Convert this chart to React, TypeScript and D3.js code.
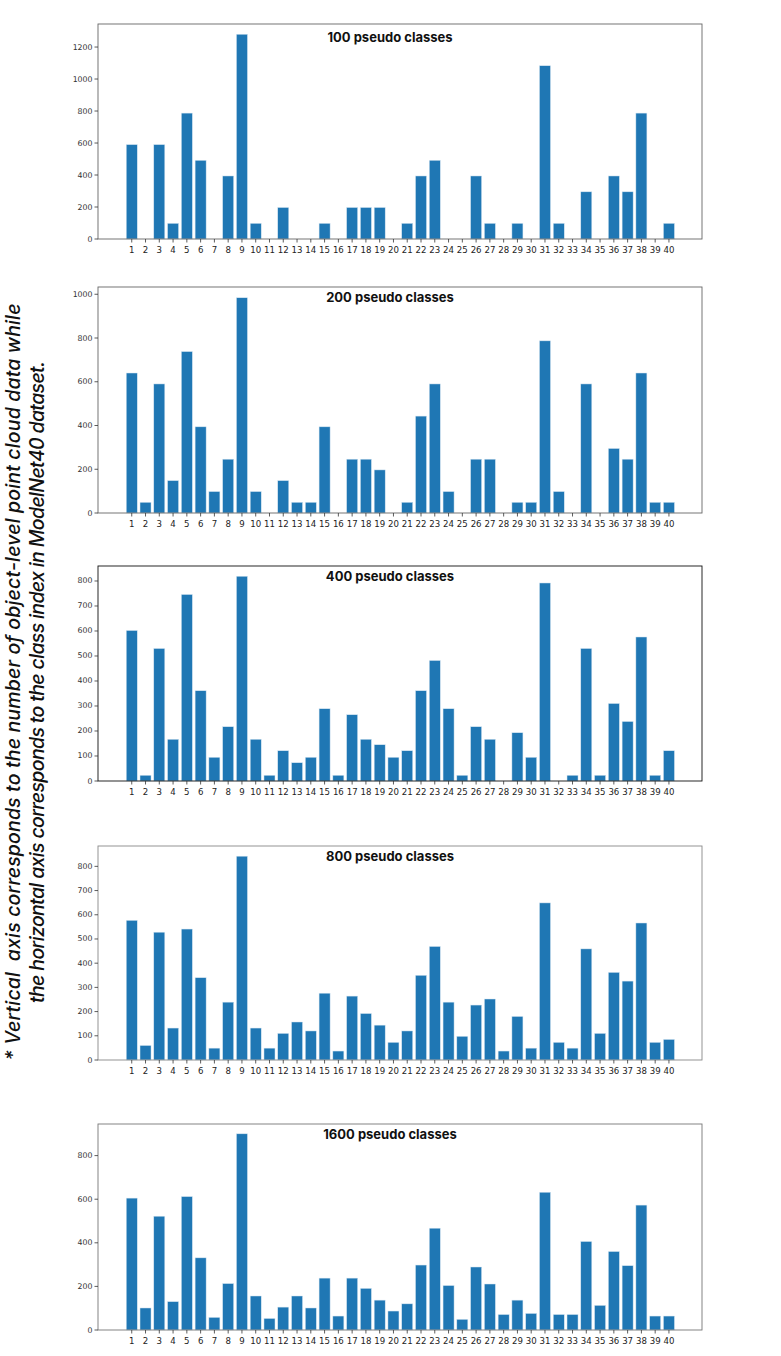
import React from 'react';
import * as d3 from 'd3';

// class index on the horizontal axis
const classIdx = [
  1, 2, 3, 4, 5, 6, 7, 8, 9, 10, 11, 12, 13, 14, 15, 16, 17, 18, 19, 20,
  21, 22, 23, 24, 25, 26, 27, 28, 29, 30, 31, 32, 33, 34, 35, 36, 37, 38, 39, 40,
];

const counts100 = [
  590, 0, 590, 98, 787, 492, 0, 394, 1280, 98, 0, 197, 0, 0, 98, 0, 197, 197, 197, 0,
  98, 394, 492, 0, 0, 394, 98, 0, 98, 0, 1083, 98, 0, 295, 0, 394, 295, 787, 0, 98,
];
const counts200 = [
  640, 49, 590, 148, 738, 394, 98, 246, 984, 98, 0, 148, 49, 49, 394, 0, 246, 246, 197, 0,
  49, 443, 590, 98, 0, 246, 246, 0, 49, 49, 787, 98, 0, 590, 0, 295, 246, 640, 49, 49,
];
const counts400 = [
  602, 23, 530, 167, 746, 361, 95, 217, 819, 167, 23, 121, 73, 95, 289, 23, 265, 167, 145, 95,
  121, 361, 482, 289, 23, 217, 167, 0, 193, 95, 792, 0, 23, 530, 23, 310, 238, 576, 23, 121,
];
const counts800 = [
  577, 60, 528, 132, 541, 340, 49, 239, 842, 132, 49, 110, 157, 120, 276, 37, 264, 192, 144, 73,
  120, 350, 469, 239, 98, 227, 252, 37, 180, 49, 649, 73, 49, 459, 110, 362, 326, 566, 73, 85,
];
const counts1600 = [
  605, 101, 522, 130, 612, 331, 58, 213, 900, 156, 53, 105, 156, 101, 238, 64, 238, 191, 137, 87,
  120, 298, 467, 204, 49, 289, 211, 71, 137, 76, 632, 71, 71, 406, 113, 360, 295, 573, 64, 64,
];

const titles = ['100 pseudo classes', '200 pseudo classes', '400 pseudo classes', '800 pseudo classes', '1600 pseudo classes'];
const ticks100 = [0, 200, 400, 600, 800, 1000, 1200];
const ticks200 = [0, 200, 400, 600, 800, 1000];
const ticks400 = [0, 100, 200, 300, 400, 500, 600, 700, 800];
const ticks800 = [0, 100, 200, 300, 400, 500, 600, 700, 800];
const ticks1600 = [0, 200, 400, 600, 800];

const noteLines = [
  '* Vertical  axis corresponds to the number of object-level point cloud data while',
  'the horizontal axis corresponds to the class index in ModelNet40 dataset.',
];

// plot frames (pixel layout)
const panels = [
  { values: counts100, ticks: ticks100, top: 24, bottom: 239, titleDy: 13, frame: '#666' },
  { values: counts200, ticks: ticks200, top: 287, bottom: 513, titleDy: 10, frame: '#666' },
  { values: counts400, ticks: ticks400, top: 566, bottom: 781, titleDy: 10, frame: '#111' },
  { values: counts800, ticks: ticks800, top: 846, bottom: 1060, titleDy: 10, frame: '#888' },
  { values: counts1600, ticks: ticks1600, top: 1124, bottom: 1330, titleDy: 10, frame: '#777' },
];

const LEFT = 98;
const RIGHT = 702;
const BAR = '#1f77b4';
const tickFont = '"DejaVu Sans", sans-serif';

const x = d3.scaleLinear().domain([-1.45, 42.4]).range([LEFT, RIGHT]);
const barW = x(0.8) - x(0);

const Panel: React.FC<{ idx: number }> = ({ idx }) => {
  const p = panels[idx];
  const max = d3.max(p.values) as number;
  const y = d3.scaleLinear().domain([0, max * 1.05]).range([p.bottom, p.top]);

  return (
    <g>
      {p.values.map((v, i) => (
        <rect
          key={i}
          x={x(classIdx[i]) - barW / 2}
          y={y(v)}
          width={barW}
          height={p.bottom - y(v)}
          fill={BAR}
          stroke="#d6e6f2"
          strokeWidth={0.5}
        />
      ))}
      <rect x={LEFT} y={p.top} width={RIGHT - LEFT} height={p.bottom - p.top} fill="none" stroke={p.frame} strokeWidth={0.9} />

      {/* x axis */}
      {classIdx.map((c) => (
        <g key={c} transform={`translate(${x(c)},${p.bottom})`}>
          <line y2={3.5} stroke="#333" strokeWidth={0.8} />
          <text y={13.5} textAnchor="middle" fontSize={8.6} fontFamily={tickFont} fill="#222">
            {c}
          </text>
        </g>
      ))}

      {/* y axis */}
      {p.ticks.map((t) => (
        <g key={t} transform={`translate(${LEFT},${y(t)})`}>
          <line x2={-3.5} stroke="#333" strokeWidth={0.8} />
          <text x={-5.5} dy="0.32em" textAnchor="end" fontSize={7.8} fontFamily={tickFont} fill="#333">
            {t}
          </text>
        </g>
      ))}

      <text
        x={390}
        y={p.top + p.titleDy}
        dy="0.35em"
        textAnchor="middle"
        fontSize={13}
        fontWeight={700}
        fontFamily='Inter, "Open Sans", sans-serif'
        fill="#111"
      >
        {titles[idx]}
      </text>
    </g>
  );
};

const noteLengths = [757, 642];

const App: React.FC = () => {
  return (
    <svg
      width={781}
      height={1356}
      style={{ position: 'absolute', left: 0, top: 0, background: '#fff' }}
    >
      <rect width={781} height={1356} fill="#fff" />
      {panels.map((_, i) => (
        <Panel key={i} idx={i} />
      ))}
      {noteLines.map((line, i) => (
        <text
          key={i}
          transform={`translate(${20 + i * 24},682) rotate(-90)`}
          textAnchor="middle"
          fontSize={19.5}
          fontStyle="italic"
          fontWeight={500}
          fontFamily='Inter, "Open Sans", sans-serif'
          fill="#111"
          textLength={noteLengths[i]}
          lengthAdjust="spacing"
          style={{ whiteSpace: 'pre' }}
        >
          {line}
        </text>
      ))}
    </svg>
  );
};

export default App;
